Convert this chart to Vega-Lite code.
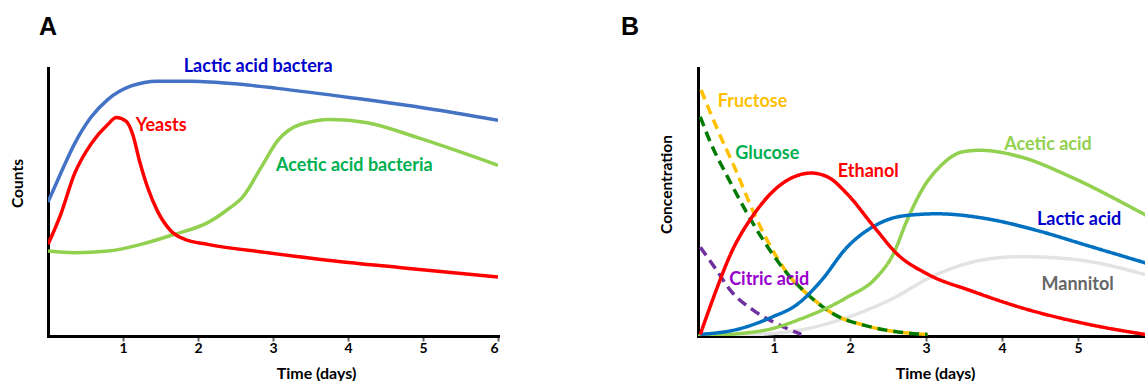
{
  "$schema": "https://vega.github.io/schema/vega-lite/v6.json",
  "background": "white",
  "padding": {"left": 10, "top": 14, "right": 0, "bottom": 0},
  "bounds": "flush",
  "spacing": 200,
  "config": {
    "view": {"stroke": null},
    "axis": {"grid": false, "domainColor": "black", "domainWidth": 3, "domainCap": "square",
             "labelFont": "Lato", "labelFontWeight": "bold", "labelFontSize": 14, "labelColor": "black",
             "titleFont": "Lato", "titleFontWeight": "bold", "titleFontSize": 16, "titleColor": "black",
             "tickColor": "#666666", "tickWidth": 2, "tickSize": 5, "labelPadding": 0}
  },
  "datasets": {
    "A_lines": [
      {"series": "LAB", "day": 0.0, "value": 50.0},
      {"series": "LAB", "day": 0.17, "value": 60.7},
      {"series": "LAB", "day": 0.35, "value": 71.5},
      {"series": "LAB", "day": 0.57, "value": 81.5},
      {"series": "LAB", "day": 0.8, "value": 88.3},
      {"series": "LAB", "day": 1.11, "value": 93.3},
      {"series": "LAB", "day": 1.46, "value": 95.1},
      {"series": "LAB", "day": 1.91, "value": 95.1},
      {"series": "LAB", "day": 2.57, "value": 93.9},
      {"series": "LAB", "day": 3.06, "value": 92.4},
      {"series": "LAB", "day": 4.04, "value": 88.9},
      {"series": "LAB", "day": 5.06, "value": 84.9},
      {"series": "LAB", "day": 6.0, "value": 80.5},
      {"series": "AAB", "day": 0.0, "value": 31.7},
      {"series": "AAB", "day": 0.35, "value": 31.1},
      {"series": "AAB", "day": 0.8, "value": 31.7},
      {"series": "AAB", "day": 1.24, "value": 34.2},
      {"series": "AAB", "day": 1.68, "value": 37.9},
      {"series": "AAB", "day": 2.13, "value": 42.3},
      {"series": "AAB", "day": 2.4, "value": 47.3},
      {"series": "AAB", "day": 2.6, "value": 52.0},
      {"series": "AAB", "day": 2.84, "value": 62.8},
      {"series": "AAB", "day": 3.06, "value": 72.8},
      {"series": "AAB", "day": 3.37, "value": 79.0},
      {"series": "AAB", "day": 3.77, "value": 80.8},
      {"series": "AAB", "day": 4.26, "value": 79.6},
      {"series": "AAB", "day": 4.93, "value": 74.0},
      {"series": "AAB", "day": 6.0, "value": 63.7},
      {"series": "Yeasts", "day": 0.0, "value": 34.2},
      {"series": "Yeasts", "day": 0.17, "value": 45.4},
      {"series": "Yeasts", "day": 0.35, "value": 60.3},
      {"series": "Yeasts", "day": 0.57, "value": 71.5},
      {"series": "Yeasts", "day": 0.8, "value": 79.0},
      {"series": "Yeasts", "day": 0.91, "value": 81.5},
      {"series": "Yeasts", "day": 1.04, "value": 80.2},
      {"series": "Yeasts", "day": 1.13, "value": 75.2},
      {"series": "Yeasts", "day": 1.22, "value": 65.3},
      {"series": "Yeasts", "day": 1.33, "value": 55.3},
      {"series": "Yeasts", "day": 1.46, "value": 46.6},
      {"series": "Yeasts", "day": 1.64, "value": 39.2},
      {"series": "Yeasts", "day": 1.82, "value": 36.1},
      {"series": "Yeasts", "day": 2.13, "value": 34.2},
      {"series": "Yeasts", "day": 2.93, "value": 31.1},
      {"series": "Yeasts", "day": 3.82, "value": 28.0},
      {"series": "Yeasts", "day": 4.71, "value": 25.5},
      {"series": "Yeasts", "day": 6.0, "value": 22.0}
    ],
    "A_labels": [
      {"label": "Lactic acid bactera", "day": 1.81, "value": 100.4},
      {"label": "Yeasts", "day": 1.17, "value": 78.4},
      {"label": "Acetic acid bacteria", "day": 3.04, "value": 63.4}
    ],
    "B_lines": [
      {"series": "Mannitol", "day": 0.3, "value": 0.0},
      {"series": "Mannitol", "day": 1.18, "value": 1.5},
      {"series": "Mannitol", "day": 1.96, "value": 6.9},
      {"series": "Mannitol", "day": 2.5, "value": 13.1},
      {"series": "Mannitol", "day": 3.15, "value": 23.1},
      {"series": "Mannitol", "day": 3.81, "value": 28.7},
      {"series": "Mannitol", "day": 4.25, "value": 29.6},
      {"series": "Mannitol", "day": 4.91, "value": 28.7},
      {"series": "Mannitol", "day": 6.0, "value": 22.0},
      {"series": "Citric", "day": 0.03, "value": 33.1},
      {"series": "Citric", "day": 0.22, "value": 25.6},
      {"series": "Citric", "day": 0.43, "value": 16.9},
      {"series": "Citric", "day": 0.74, "value": 9.4},
      {"series": "Citric", "day": 1.05, "value": 4.4},
      {"series": "Citric", "day": 1.36, "value": 0.6},
      {"series": "Fructose", "day": 0.04, "value": 91.8},
      {"series": "Fructose", "day": 0.26, "value": 76.8},
      {"series": "Fructose", "day": 0.48, "value": 63.0},
      {"series": "Fructose", "day": 0.74, "value": 45.6},
      {"series": "Fructose", "day": 0.96, "value": 33.1},
      {"series": "Fructose", "day": 1.22, "value": 21.8},
      {"series": "Fructose", "day": 1.49, "value": 14.4},
      {"series": "Fructose", "day": 1.79, "value": 8.1},
      {"series": "Fructose", "day": 2.23, "value": 3.7},
      {"series": "Fructose", "day": 2.72, "value": 1.2},
      {"series": "Fructose", "day": 3.02, "value": 0.6},
      {"series": "Glucose", "day": 0.03, "value": 81.8},
      {"series": "Glucose", "day": 0.17, "value": 71.8},
      {"series": "Glucose", "day": 0.39, "value": 59.3},
      {"series": "Glucose", "day": 0.65, "value": 45.6},
      {"series": "Glucose", "day": 0.92, "value": 33.1},
      {"series": "Glucose", "day": 1.18, "value": 23.1},
      {"series": "Glucose", "day": 1.44, "value": 15.6},
      {"series": "Glucose", "day": 1.79, "value": 8.1},
      {"series": "Glucose", "day": 2.23, "value": 3.7},
      {"series": "Glucose", "day": 2.72, "value": 1.2},
      {"series": "Glucose", "day": 3.02, "value": 0.6},
      {"series": "Acetic", "day": 0.0, "value": 0.0},
      {"series": "Acetic", "day": 0.83, "value": 1.9},
      {"series": "Acetic", "day": 1.4, "value": 6.9},
      {"series": "Acetic", "day": 1.96, "value": 14.4},
      {"series": "Acetic", "day": 2.35, "value": 21.9},
      {"series": "Acetic", "day": 2.57, "value": 30.6},
      {"series": "Acetic", "day": 2.75, "value": 43.1},
      {"series": "Acetic", "day": 2.97, "value": 55.6},
      {"series": "Acetic", "day": 3.18, "value": 63.1},
      {"series": "Acetic", "day": 3.48, "value": 68.7},
      {"series": "Acetic", "day": 3.71, "value": 69.3},
      {"series": "Acetic", "day": 4.25, "value": 66.8},
      {"series": "Acetic", "day": 4.91, "value": 59.3},
      {"series": "Acetic", "day": 5.86, "value": 45.6},
      {"series": "Acetic", "day": 6.0, "value": 43.5},
      {"series": "Lactic", "day": 0.03, "value": 0.6},
      {"series": "Lactic", "day": 0.52, "value": 2.5},
      {"series": "Lactic", "day": 0.96, "value": 6.9},
      {"series": "Lactic", "day": 1.31, "value": 11.9},
      {"series": "Lactic", "day": 1.62, "value": 20.6},
      {"series": "Lactic", "day": 1.96, "value": 33.1},
      {"series": "Lactic", "day": 2.33, "value": 41.2},
      {"series": "Lactic", "day": 2.72, "value": 44.9},
      {"series": "Lactic", "day": 3.15, "value": 45.6},
      {"series": "Lactic", "day": 3.81, "value": 43.7},
      {"series": "Lactic", "day": 4.47, "value": 39.3},
      {"series": "Lactic", "day": 5.13, "value": 33.7},
      {"series": "Lactic", "day": 5.86, "value": 27.5},
      {"series": "Lactic", "day": 6.0, "value": 26.3},
      {"series": "Ethanol", "day": 0.03, "value": 0.6},
      {"series": "Ethanol", "day": 0.22, "value": 15.6},
      {"series": "Ethanol", "day": 0.43, "value": 30.6},
      {"series": "Ethanol", "day": 0.74, "value": 45.6},
      {"series": "Ethanol", "day": 1.05, "value": 55.6},
      {"series": "Ethanol", "day": 1.31, "value": 59.9},
      {"series": "Ethanol", "day": 1.49, "value": 60.8},
      {"series": "Ethanol", "day": 1.71, "value": 59.3},
      {"series": "Ethanol", "day": 1.96, "value": 53.1},
      {"series": "Ethanol", "day": 2.32, "value": 40.6},
      {"series": "Ethanol", "day": 2.62, "value": 30.6},
      {"series": "Ethanol", "day": 3.02, "value": 23.1},
      {"series": "Ethanol", "day": 3.59, "value": 16.9},
      {"series": "Ethanol", "day": 4.25, "value": 10.6},
      {"series": "Ethanol", "day": 5.13, "value": 4.4},
      {"series": "Ethanol", "day": 5.9, "value": 0.5}
    ],
    "B_labels": [
      {"label": "Fructose", "day": 0.26, "value": 87.3},
      {"label": "Glucose", "day": 0.49, "value": 68.0},
      {"label": "Ethanol", "day": 1.84, "value": 61.2},
      {"label": "Acetic acid", "day": 4.03, "value": 71.2},
      {"label": "Lactic acid", "day": 4.46, "value": 43.1},
      {"label": "Mannitol", "day": 4.52, "value": 19.0},
      {"label": "Citric acid", "day": 0.41, "value": 20.9}
    ]
  },
  "hconcat": [
    {
      "width": 450,
      "height": 268,
      "title": {"text": "A", "anchor": "start", "frame": "group", "dx": -9, "offset": -2, "baseline": "alphabetic", "font": "Liberation Sans", "fontSize": 25, "fontWeight": "bold", "color": "black"},
      "resolve": {"scale": {"color": "independent"}},
      "layer": [
        {
          "data": {"name": "A_lines"},
          "mark": {"type": "line", "interpolate": "monotone", "strokeWidth": 3.5, "clip": true},
          "encoding": {
            "x": {"field": "day", "type": "quantitative", "scale": {"domain": [0, 6], "nice": false},
                  "axis": {"values": [1, 2, 3, 4, 5, 6], "format": "d", "title": "Time (days)", "titleX": 268, "titleY": 37, "titleAlign": "center", "titleBaseline": "middle", "titleAngle": 0}},
            "y": {"field": "value", "type": "quantitative", "scale": {"domain": [0, 100], "nice": false},
                  "axis": {"title": "Counts", "ticks": false, "labels": false, "titleX": -31, "titleY": 115, "titleAlign": "center", "titleBaseline": "middle", "titleAngle": 270, "titleFontSize": 15.5}},
            "color": {"field": "series", "type": "nominal", "legend": null,
                      "scale": {"domain": ["LAB", "AAB", "Yeasts"], "range": ["#4472C4", "#92D050", "#FF0000"]}}
          }
        },
        {
          "data": {"name": "A_labels"},
          "mark": {"type": "text", "align": "left", "baseline": "middle", "font": "Lato", "fontWeight": "bold", "fontSize": 18},
          "encoding": {
            "x": {"field": "day", "type": "quantitative"},
            "y": {"field": "value", "type": "quantitative"},
            "text": {"field": "label"},
            "color": {"field": "label", "type": "nominal", "legend": null,
                      "scale": {"domain": ["Lactic acid bactera", "Yeasts", "Acetic acid bacteria"], "range": ["#0000CC", "#FF0000", "#00B050"]}}
          }
        }
      ]
    },
    {
      "width": 448,
      "height": 268,
      "title": {"text": "B", "anchor": "start", "frame": "group", "dx": -77, "offset": 8, "baseline": "alphabetic", "font": "Liberation Sans", "fontSize": 25, "fontWeight": "bold", "color": "black"},
      "resolve": {"scale": {"color": "independent"}},
      "layer": [
        {
          "data": {"name": "B_lines"},
          "mark": {"type": "line", "interpolate": "monotone", "strokeWidth": 3.5, "clip": true, "strokeCap": "butt"},
          "encoding": {
            "x": {"field": "day", "type": "quantitative", "scale": {"domain": [0, 5.895], "nice": false},
                  "axis": {"values": [1, 2, 3, 4, 5], "format": "d", "title": "Time (days)", "titleX": 237, "titleY": 37, "titleAlign": "center", "titleBaseline": "middle", "titleAngle": 0}},
            "y": {"field": "value", "type": "quantitative", "scale": {"domain": [0, 100], "nice": false},
                  "axis": {"title": "Concentration", "ticks": false, "labels": false, "titleX": -32, "titleY": 116, "titleAlign": "center", "titleBaseline": "middle", "titleAngle": 270, "titleFontSize": 15.5}},
            "color": {"field": "series", "type": "nominal", "legend": null,
                      "scale": {"domain": ["Mannitol", "Citric", "Fructose", "Glucose", "Acetic", "Lactic", "Ethanol"],
                                "range": ["#E3E3E3", "#7030A0", "#FFC000", "#007A00", "#92D050", "#0070C0", "#FF0000"]}},
            "strokeDash": {"field": "series", "type": "nominal", "legend": null,
                      "scale": {"domain": ["Mannitol", "Citric", "Fructose", "Glucose", "Acetic", "Lactic", "Ethanol"],
                                "range": [[1, 0], [10, 6], [10, 6], [10, 6], [1, 0], [1, 0], [1, 0]]}}
          }
        },
        {
          "data": {"name": "B_labels"},
          "mark": {"type": "text", "align": "left", "baseline": "middle", "font": "Lato", "fontWeight": "bold", "fontSize": 18},
          "encoding": {
            "x": {"field": "day", "type": "quantitative"},
            "y": {"field": "value", "type": "quantitative"},
            "text": {"field": "label"},
            "color": {"field": "label", "type": "nominal", "legend": null,
                      "scale": {"domain": ["Fructose", "Glucose", "Ethanol", "Acetic acid", "Lactic acid", "Mannitol", "Citric acid"],
                                "range": ["#FFC000", "#00B050", "#FF0000", "#92D050", "#0000CC", "#666666", "#9900CC"]}}
          }
        }
      ]
    }
  ]
}
